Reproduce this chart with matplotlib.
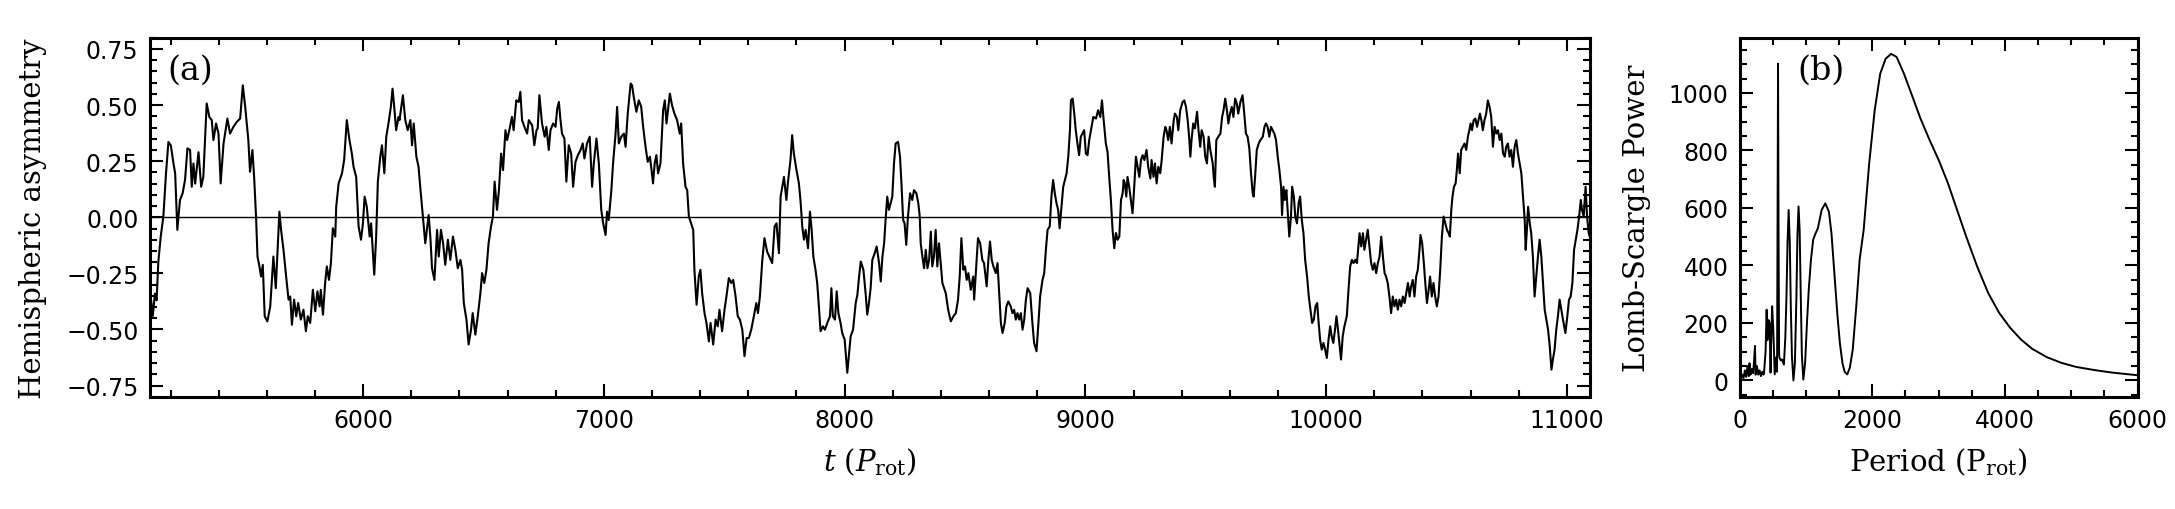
import numpy as np
import matplotlib
matplotlib.use("Agg")
import matplotlib.pyplot as plt
from matplotlib.ticker import MultipleLocator

# ---------------- data: panel (a) hemispheric asymmetry time series ----------------
time_a = [
    5113, 5117, 5126, 5135, 5142, 5149, 5159, 5170, 5181, 5191, 5201, 5212, 5219, 5228, 5239, 5250, 5260, 5270, 5281, 5288,
    5295, 5302, 5316, 5327, 5336, 5350, 5361, 5371, 5378, 5389, 5399, 5408, 5420, 5436, 5447, 5461, 5475, 5489, 5500, 5510,
    5523, 5530, 5540, 5547, 5555, 5561, 5569, 5576, 5583, 5591, 5602, 5614, 5627, 5637, 5652, 5659, 5669, 5680, 5690, 5697,
    5704, 5713, 5722, 5730, 5741, 5752, 5762, 5770, 5780, 5791, 5801, 5810, 5819, 5824, 5833, 5842, 5849, 5858, 5866, 5874,
    5884, 5888, 5898, 5912, 5921, 5932, 5943, 5953, 5960, 5971, 5981, 5991, 5999, 6006, 6015, 6027, 6033, 6046, 6054, 6061,
    6071, 6078, 6088, 6096, 6106, 6115, 6122, 6129, 6137, 6147,
    6151, 6165, 6175, 6185, 6196, 6203, 6210, 6221, 6230, 6237, 6248, 6258, 6272, 6279, 6286, 6296, 6307, 6314, 6323, 6332,
    6341, 6352, 6362, 6373, 6383, 6393, 6404, 6411, 6418, 6429, 6438, 6448, 6455, 6466, 6476, 6487, 6494, 6503, 6512, 6521,
    6531, 6539, 6546, 6556, 6564, 6573, 6581, 6591, 6598, 6607, 6618, 6625, 6636, 6646, 6653, 6660, 6670, 6681, 6688, 6702,
    6711, 6720, 6725, 6732, 6743, 6754, 6761, 6771, 6778, 6789, 6799, 6806, 6813, 6819, 6826, 6836, 6844, 6854, 6864, 6872,
    6882, 6892, 6903, 6912, 6919, 6930, 6941, 6951, 6958, 6969, 6979, 6989, 6997, 7007, 7013, 7020, 7031, 7038, 7048, 7055,
    7062, 7072, 7083, 7090, 7099, 7111, 7117, 7124, 7135, 7145,
    7155, 7163, 7173, 7182, 7191, 7198, 7204, 7211, 7218, 7225, 7235, 7246, 7253, 7260, 7274, 7283, 7293, 7304, 7315, 7321,
    7329, 7339, 7346, 7353, 7362, 7371, 7376, 7385, 7394, 7401, 7408, 7418, 7426, 7436, 7443, 7454, 7464, 7473, 7480, 7491,
    7501, 7509, 7519, 7529, 7537, 7547, 7556, 7565, 7575, 7584, 7593, 7602, 7612, 7623, 7633, 7640, 7648, 7658, 7667, 7678,
    7690, 7699, 7709, 7717, 7727, 7734, 7741, 7748, 7758, 7764, 7775, 7782, 7789, 7800, 7810, 7817, 7824, 7831, 7838, 7848,
    7856, 7863, 7870, 7879, 7886, 7893, 7900, 7910, 7918, 7928, 7939, 7945, 7951, 7960, 7967, 7974, 7983, 7990, 8000, 8011,
    8018, 8025, 8035, 8046, 8053, 8060, 8067, 8078, 8087, 8094, 8101, 8108, 8115, 8125, 8133, 8143,
    8150, 8157, 8164, 8170, 8177, 8184, 8191, 8198, 8205, 8212, 8222, 8230, 8236, 8243, 8249, 8256, 8263, 8272, 8281, 8288,
    8298, 8306, 8312, 8316, 8323, 8330, 8337, 8344, 8351, 8358, 8364, 8371, 8378, 8385, 8392, 8399, 8406, 8420, 8430, 8441,
    8452, 8462, 8471, 8478, 8485, 8493, 8500, 8507, 8514, 8524, 8534, 8538, 8545, 8554, 8563, 8572, 8579, 8590, 8597, 8604,
    8611, 8618, 8628, 8635, 8642, 8649, 8656, 8665, 8672, 8680, 8690, 8697, 8704, 8711, 8718, 8725, 8732, 8739, 8746, 8753,
    8760, 8771, 8780, 8787, 8797, 8805, 8812, 8822, 8829, 8836, 8843, 8852, 8859, 8866, 8873, 8880, 8887, 8893, 8901, 8908,
    8915, 8922, 8929, 8936, 8940, 8947, 8954, 8960, 8967, 8974, 8981, 8988, 8995, 9002, 9009, 9016, 9026, 9033, 9044, 9053,
    9062, 9069, 9076, 9085, 9092, 9099, 9106, 9113, 9120, 9127, 9134, 9141,
    9148, 9155, 9159, 9164, 9170, 9175, 9182, 9189, 9196, 9203, 9210, 9217, 9224, 9231, 9238, 9245, 9254, 9261, 9270, 9275,
    9283, 9289, 9296, 9303, 9311, 9317, 9325, 9332, 9337, 9344, 9351, 9358, 9367, 9372, 9380, 9386, 9394, 9404, 9411, 9418,
    9425, 9432, 9436, 9441, 9448, 9455, 9464, 9470, 9477, 9483, 9491, 9498, 9505, 9512, 9519, 9529, 9533, 9538, 9544, 9552,
    9561, 9568, 9574, 9581, 9588, 9594, 9601, 9608, 9615, 9622, 9629, 9635, 9644, 9653, 9660, 9667, 9674, 9681, 9688, 9695,
    9699, 9705, 9712, 9720, 9727, 9737, 9744, 9750, 9757, 9764, 9771, 9778, 9785, 9792, 9799, 9806, 9813, 9817, 9823, 9829,
    9835, 9841, 9847, 9854, 9859, 9866, 9872, 9879, 9886, 9892, 9899, 9906, 9913, 9921, 9928, 9935, 9942, 9949, 9956, 9963,
    9968, 9975, 9982, 9989, 9996, 10003, 10010, 10017, 10023, 10030, 10037, 10043, 10048, 10055, 10062, 10069, 10076, 10086,
    10093, 10100, 10107, 10114, 10121, 10128, 10134, 10139,
    10146, 10153, 10159, 10166, 10173, 10180, 10187, 10194, 10201, 10208, 10215, 10222, 10229, 10236, 10243, 10249, 10256,
    10263, 10270, 10277, 10284, 10291, 10298, 10305, 10312, 10319, 10326, 10333, 10340, 10347, 10353, 10360, 10367, 10374,
    10381, 10388, 10392, 10399, 10406, 10412, 10419, 10426, 10432, 10439, 10446, 10453, 10460, 10467, 10474, 10481, 10488,
    10495, 10502, 10509, 10514, 10520, 10525, 10531, 10538, 10543, 10548, 10555, 10561, 10568, 10575, 10582, 10589, 10595,
    10600, 10606, 10613, 10620, 10627, 10633, 10639, 10645, 10651, 10658, 10665, 10672, 10679, 10686, 10693, 10700, 10707,
    10714, 10721, 10728, 10735, 10742, 10748, 10755, 10762, 10769, 10776, 10783, 10790, 10797, 10804, 10811, 10818, 10825,
    10829, 10834, 10839, 10846, 10852, 10859, 10866, 10873, 10880, 10887, 10894, 10901, 10908, 10915, 10922, 10929, 10936,
    10942, 10949, 10956, 10963, 10970, 10977, 10984, 10994, 11002, 11009, 11016, 11023, 11030, 11037, 11044, 11051, 11058,
    11063, 11070, 11078, 11084, 11091, 11095,
]
asymmetry = [
    -0.30, -0.35, -0.44, -0.34, -0.37, -0.20, -0.086, 0.003, 0.196, 0.336, 0.32, 0.24, 0.196, -0.056, 0.077, 0.107, 0.166, 0.307, 0.30, 0.136,
    0.24, 0.15, 0.29, 0.136, 0.18, 0.507, 0.447, 0.433, 0.344, 0.418, 0.373, 0.151, 0.329, 0.44, 0.373, 0.403, 0.425, 0.44, 0.588, 0.492,
    0.344, 0.203, 0.30, 0.18, 0.003, -0.175, -0.219, -0.264, -0.212, -0.441, -0.464, -0.397, -0.175, -0.316, 0.025, -0.056, -0.145, -0.264, -0.367, -0.353,
    -0.479, -0.367, -0.441, -0.382, -0.456, -0.412, -0.508, -0.441, -0.471, -0.323, -0.419, -0.33, -0.397, -0.323, -0.434, -0.293, -0.219, -0.279, -0.204, -0.049,
    -0.086, 0.047, 0.151, 0.196, 0.255, 0.433, 0.344, 0.284, 0.225, 0.18, -0.041, -0.10, -0.027, 0.092, 0.047, -0.086, -0.027, -0.256, -0.086, 0.159,
    0.27, 0.321, 0.196, 0.359, 0.425, 0.492, 0.573, 0.492, 0.388, 0.447,
    0.433, 0.544, 0.433, 0.388, 0.433, 0.321, 0.418, 0.27, 0.225, 0.136, 0.003, -0.116, 0.01, -0.086, -0.227, -0.279, -0.056, -0.175, -0.056, -0.116,
    -0.212, -0.10, -0.19, -0.086, -0.145, -0.227, -0.19, -0.234, -0.382, -0.456, -0.567, -0.501, -0.427, -0.523, -0.441, -0.338, -0.249, -0.293, -0.234, -0.116,
    -0.041, 0.003, 0.159, 0.033, 0.121, 0.284, 0.21, 0.388, 0.344, 0.388, 0.447, 0.388, 0.521, 0.514, 0.559, 0.433, 0.403, 0.373, 0.433, 0.41,
    0.321, 0.388, 0.396, 0.544, 0.418, 0.359, 0.403, 0.30, 0.388, 0.418, 0.403, 0.484, 0.514, 0.44, 0.373, 0.351, 0.159, 0.321, 0.284, 0.136,
    0.247, 0.277, 0.30, 0.329, 0.262, 0.329, 0.359, 0.136, 0.24, 0.351, 0.24, 0.033, -0.027, -0.079, 0.025, -0.012, 0.121, 0.24, 0.366, 0.492,
    0.329, 0.359, 0.373, 0.314, 0.462, 0.596, 0.588, 0.536, 0.47, 0.521,
    0.492, 0.403, 0.314, 0.247, 0.27, 0.21, 0.151, 0.24, 0.277, 0.196, 0.24, 0.477, 0.521, 0.418, 0.551, 0.499, 0.462, 0.433, 0.373, 0.418,
    0.24, 0.136, 0.121, 0.003, -0.027, -0.056, -0.234, -0.39, -0.264, -0.234, -0.338, -0.427, -0.471, -0.553, -0.471, -0.567, -0.456, -0.486, -0.412, -0.508,
    -0.412, -0.353, -0.271, -0.293, -0.279, -0.353, -0.441, -0.456, -0.501, -0.619, -0.538, -0.538, -0.501, -0.441, -0.382, -0.427, -0.353, -0.19, -0.093, -0.153,
    -0.182, -0.204, -0.041, -0.027, -0.16, 0.092, 0.136, 0.18, 0.077, 0.151, 0.255, 0.366, 0.284, 0.21, 0.151, 0.07, -0.041, -0.10, -0.056, -0.138,
    0.025, -0.056, -0.175, -0.234, -0.293, -0.397, -0.508, -0.486, -0.501, -0.471, -0.441, -0.316, -0.441, -0.456, -0.33, -0.427, -0.471, -0.516, -0.545, -0.693,
    -0.612, -0.53, -0.501, -0.382, -0.345, -0.264, -0.197, -0.234, -0.338, -0.434, -0.382, -0.316, -0.19, -0.16, -0.13, -0.204,
    -0.286, -0.175, -0.116, -0.012, 0.092, 0.033, 0.063, 0.092, 0.24, 0.329, 0.336, 0.27, 0.151, -0.012, -0.027, -0.123, 0.003, 0.107, 0.077, 0.121,
    0.107, 0.063, 0.003, -0.116, -0.175, -0.227, -0.145, -0.227, -0.19, -0.064, -0.219, -0.175, -0.056, -0.219, -0.116, -0.204, -0.293, -0.338, -0.412, -0.464,
    -0.441, -0.427, -0.367, -0.264, -0.093, -0.234, -0.219, -0.279, -0.249, -0.323, -0.264, -0.367, -0.249, -0.093, -0.116, -0.19, -0.204, -0.308, -0.19, -0.108,
    -0.19, -0.219, -0.249, -0.204, -0.338, -0.471, -0.516, -0.471, -0.397, -0.375, -0.397, -0.427, -0.412, -0.456, -0.427, -0.456, -0.427, -0.501, -0.456, -0.367,
    -0.316, -0.338, -0.471, -0.56, -0.597, -0.471, -0.353, -0.279, -0.249, -0.145, -0.056, -0.041, 0.092, 0.166, 0.107, 0.063, 0.033, -0.049, 0.047, 0.136,
    0.166, 0.196, 0.27, 0.388, 0.521, 0.529, 0.462, 0.388, 0.329, 0.277, 0.359, 0.373, 0.388, 0.284, 0.277, 0.344, 0.403, 0.447, 0.44, 0.477,
    0.447, 0.521, 0.433, 0.329, 0.292, 0.18, 0.077, -0.056, -0.138, -0.07, -0.10, -0.086,
    0.077, 0.107, 0.166, 0.151, 0.092, 0.18, 0.136, 0.077, 0.018, 0.136, 0.27, 0.225, 0.18, 0.255, 0.277, 0.255, 0.30, 0.225, 0.173, 0.255,
    0.18, 0.24, 0.151, 0.225, 0.196, 0.255, 0.359, 0.403, 0.388, 0.344, 0.403, 0.329, 0.433, 0.462, 0.447, 0.388, 0.477, 0.514, 0.521, 0.492,
    0.433, 0.344, 0.27, 0.344, 0.418, 0.396, 0.47, 0.388, 0.314, 0.388, 0.359, 0.27, 0.24, 0.359, 0.30, 0.24, 0.18, 0.136, 0.344, 0.359,
    0.373, 0.447, 0.477, 0.529, 0.477, 0.418, 0.462, 0.492, 0.447, 0.529, 0.507, 0.462, 0.514, 0.544, 0.462, 0.373, 0.359, 0.307, 0.196, 0.107,
    0.092, 0.18, 0.30, 0.329, 0.344, 0.359, 0.403, 0.418, 0.403, 0.359, 0.403, 0.388, 0.373, 0.344, 0.27, 0.21, 0.136, 0.01, 0.136, 0.077,
    0.121, 0.018, -0.086, 0.003, 0.136, 0.092, 0.003, -0.027, 0.063, 0.092, -0.012, -0.071, -0.19, -0.264, -0.353, -0.412, -0.471, -0.456, -0.397, -0.382,
    -0.456, -0.545, -0.59, -0.56, -0.59, -0.627, -0.545, -0.486, -0.53, -0.56, -0.501, -0.441, -0.486, -0.56, -0.634, -0.53, -0.486, -0.441,
    -0.323, -0.219, -0.19, -0.204, -0.19, -0.204, -0.13, -0.071,
    -0.13, -0.071, -0.145, -0.101, -0.056, -0.13, -0.204, -0.234, -0.204, -0.249, -0.204, -0.175, -0.086, -0.175, -0.249, -0.264, -0.293,
    -0.353, -0.427, -0.353, -0.397, -0.367, -0.412, -0.367, -0.397, -0.353, -0.382, -0.338, -0.293, -0.353, -0.308, -0.279, -0.353, -0.264,
    -0.234, -0.145, -0.079, -0.116, -0.204, -0.293, -0.382, -0.323, -0.264, -0.353, -0.293, -0.353, -0.397, -0.353, -0.234, -0.086, 0.003,
    -0.027, -0.056, -0.071, -0.086, 0.033, 0.092, 0.136, 0.151, 0.21, 0.284, 0.196, 0.30, 0.314, 0.329, 0.30, 0.359, 0.388,
    0.418, 0.388, 0.433, 0.44, 0.403, 0.433, 0.462, 0.433, 0.388, 0.433, 0.462, 0.521, 0.492, 0.447, 0.314, 0.403, 0.373,
    0.388, 0.344, 0.373, 0.284, 0.27, 0.314, 0.329, 0.27, 0.30, 0.225, 0.314, 0.344, 0.284, 0.24, 0.196, 0.092, -0.012,
    -0.145, -0.056, 0.047, -0.027, -0.071, -0.175, -0.353, -0.264, -0.175, -0.10, -0.175, -0.293, -0.412, -0.456, -0.501, -0.575, -0.679,
    -0.634, -0.59, -0.501, -0.441, -0.367, -0.412, -0.456, -0.516, -0.441, -0.367, -0.353, -0.293, -0.145, -0.101, -0.056, 0.003, 0.077,
    0.033, 0.003, 0.136, 0.003, -0.071, -0.086,
]

# ---------------- data: panel (b) Lomb-Scargle periodogram ----------------
period_b = [
    20, 40, 60, 80, 100, 120, 140, 150, 165, 185, 205, 222, 232, 242, 262, 282, 302, 322, 342, 362,
    370, 392, 408, 420, 436, 453, 467, 475, 491, 508, 530, 552, 565, 572, 580, 588, 596, 602, 620, 640,
    668, 690, 707, 723, 740, 757, 773, 790, 812, 834, 856, 872, 889, 906, 922, 939, 961, 988, 1016, 1043,
    1076, 1110, 1143, 1181, 1237, 1292, 1347, 1386, 1430, 1474, 1512, 1551, 1584, 1623, 1662, 1706, 1760, 1810,
    1871, 1954, 2037, 2120, 2202, 2285, 2368, 2478, 2589, 2727, 2865, 3003, 3141, 3279, 3417, 3582, 3748, 3913,
    4079, 4244, 4410, 4631, 4852, 5073, 5349, 5625, 6000,
]
power_b = [
    5, 20, 8, 35, 12, 50, 15, 60, 20, 40, 25, 80, 120, 20, 50, 20, 35, 15, 30, 20,
    30, 100, 246, 140, 210, 200, 27, 120, 258, 180, 21, 80, 30, 500, 1102, 500, 90, 79, 70, 73,
    55, 150, 292, 480, 593, 480, 250, 80, 0, 60, 280, 500, 605, 520, 300, 90, 3, 60, 200, 316,
    420, 490, 510, 530, 593, 616, 587, 510, 370, 230, 130, 60, 30, 21, 44, 107, 260, 420,
    524, 755, 940, 1067, 1119, 1136, 1125, 1067, 998, 911, 836, 766, 686, 593, 500, 396, 304, 235,
    183, 142, 110, 81, 61, 47, 36, 27, 18,
]

# ---------------- styling ----------------
plt.rcParams['font.family'] = ['DejaVu Sans']
plt.rcParams['mathtext.fontset'] = 'dejavuserif'

fig = plt.figure(figsize=(21.75, 5.10), dpi=100)
ax1 = fig.add_axes([0.0688, 0.220, 0.6621, 0.704])
ax2 = fig.add_axes([0.7998, 0.220, 0.1830, 0.704])

def style_axes(ax):
    for s in ax.spines.values():
        s.set_linewidth(2.2)
    ax.tick_params(which='both', direction='in', top=True, right=True,
                   labelsize=17, width=1.5)
    ax.tick_params(which='major', length=9.5, pad=8)
    ax.tick_params(which='minor', length=5)

# panel (a)
ax1.plot(time_a, asymmetry, color='black', lw=1.5)
ax1.axhline(0.0, color='black', lw=1.0)
ax1.set_xlim(min(time_a), max(time_a))
ax1.set_ylim(-0.8, 0.8)
ax1.xaxis.set_major_locator(MultipleLocator(1000))
ax1.xaxis.set_minor_locator(MultipleLocator(200))
ax1.yaxis.set_major_locator(MultipleLocator(0.25))
ax1.yaxis.set_minor_locator(MultipleLocator(0.05))
style_axes(ax1)
ax1.set_xlabel(r'$t\ (P_{\rm rot})$', fontsize=21, family='DejaVu Serif', labelpad=10)
ax1.set_ylabel('Hemispheric asymmetry', fontsize=21, family='DejaVu Serif', labelpad=14)
ax1.text(0.012, 0.955, '(a)', transform=ax1.transAxes, fontsize=24,
         family='DejaVu Serif', va='top', ha='left')

# panel (b)
ax2.plot(period_b, power_b, color='black', lw=1.4)
ax2.set_xlim(0, 6000)
ax2.set_ylim(-57, 1192)
ax2.xaxis.set_major_locator(MultipleLocator(2000))
ax2.xaxis.set_minor_locator(MultipleLocator(500))
ax2.yaxis.set_major_locator(MultipleLocator(200))
ax2.yaxis.set_minor_locator(MultipleLocator(50))
style_axes(ax2)
ax2.set_xlabel(r'Period (P$_{\rm rot}$)', fontsize=21, family='DejaVu Serif', labelpad=10)
ax2.set_ylabel('Lomb-Scargle Power', fontsize=21, family='DejaVu Serif', labelpad=13)
ax2.text(0.145, 0.955, '(b)', transform=ax2.transAxes, fontsize=24,
         family='DejaVu Serif', va='top', ha='left')

fig.savefig('out.png', dpi=100)
